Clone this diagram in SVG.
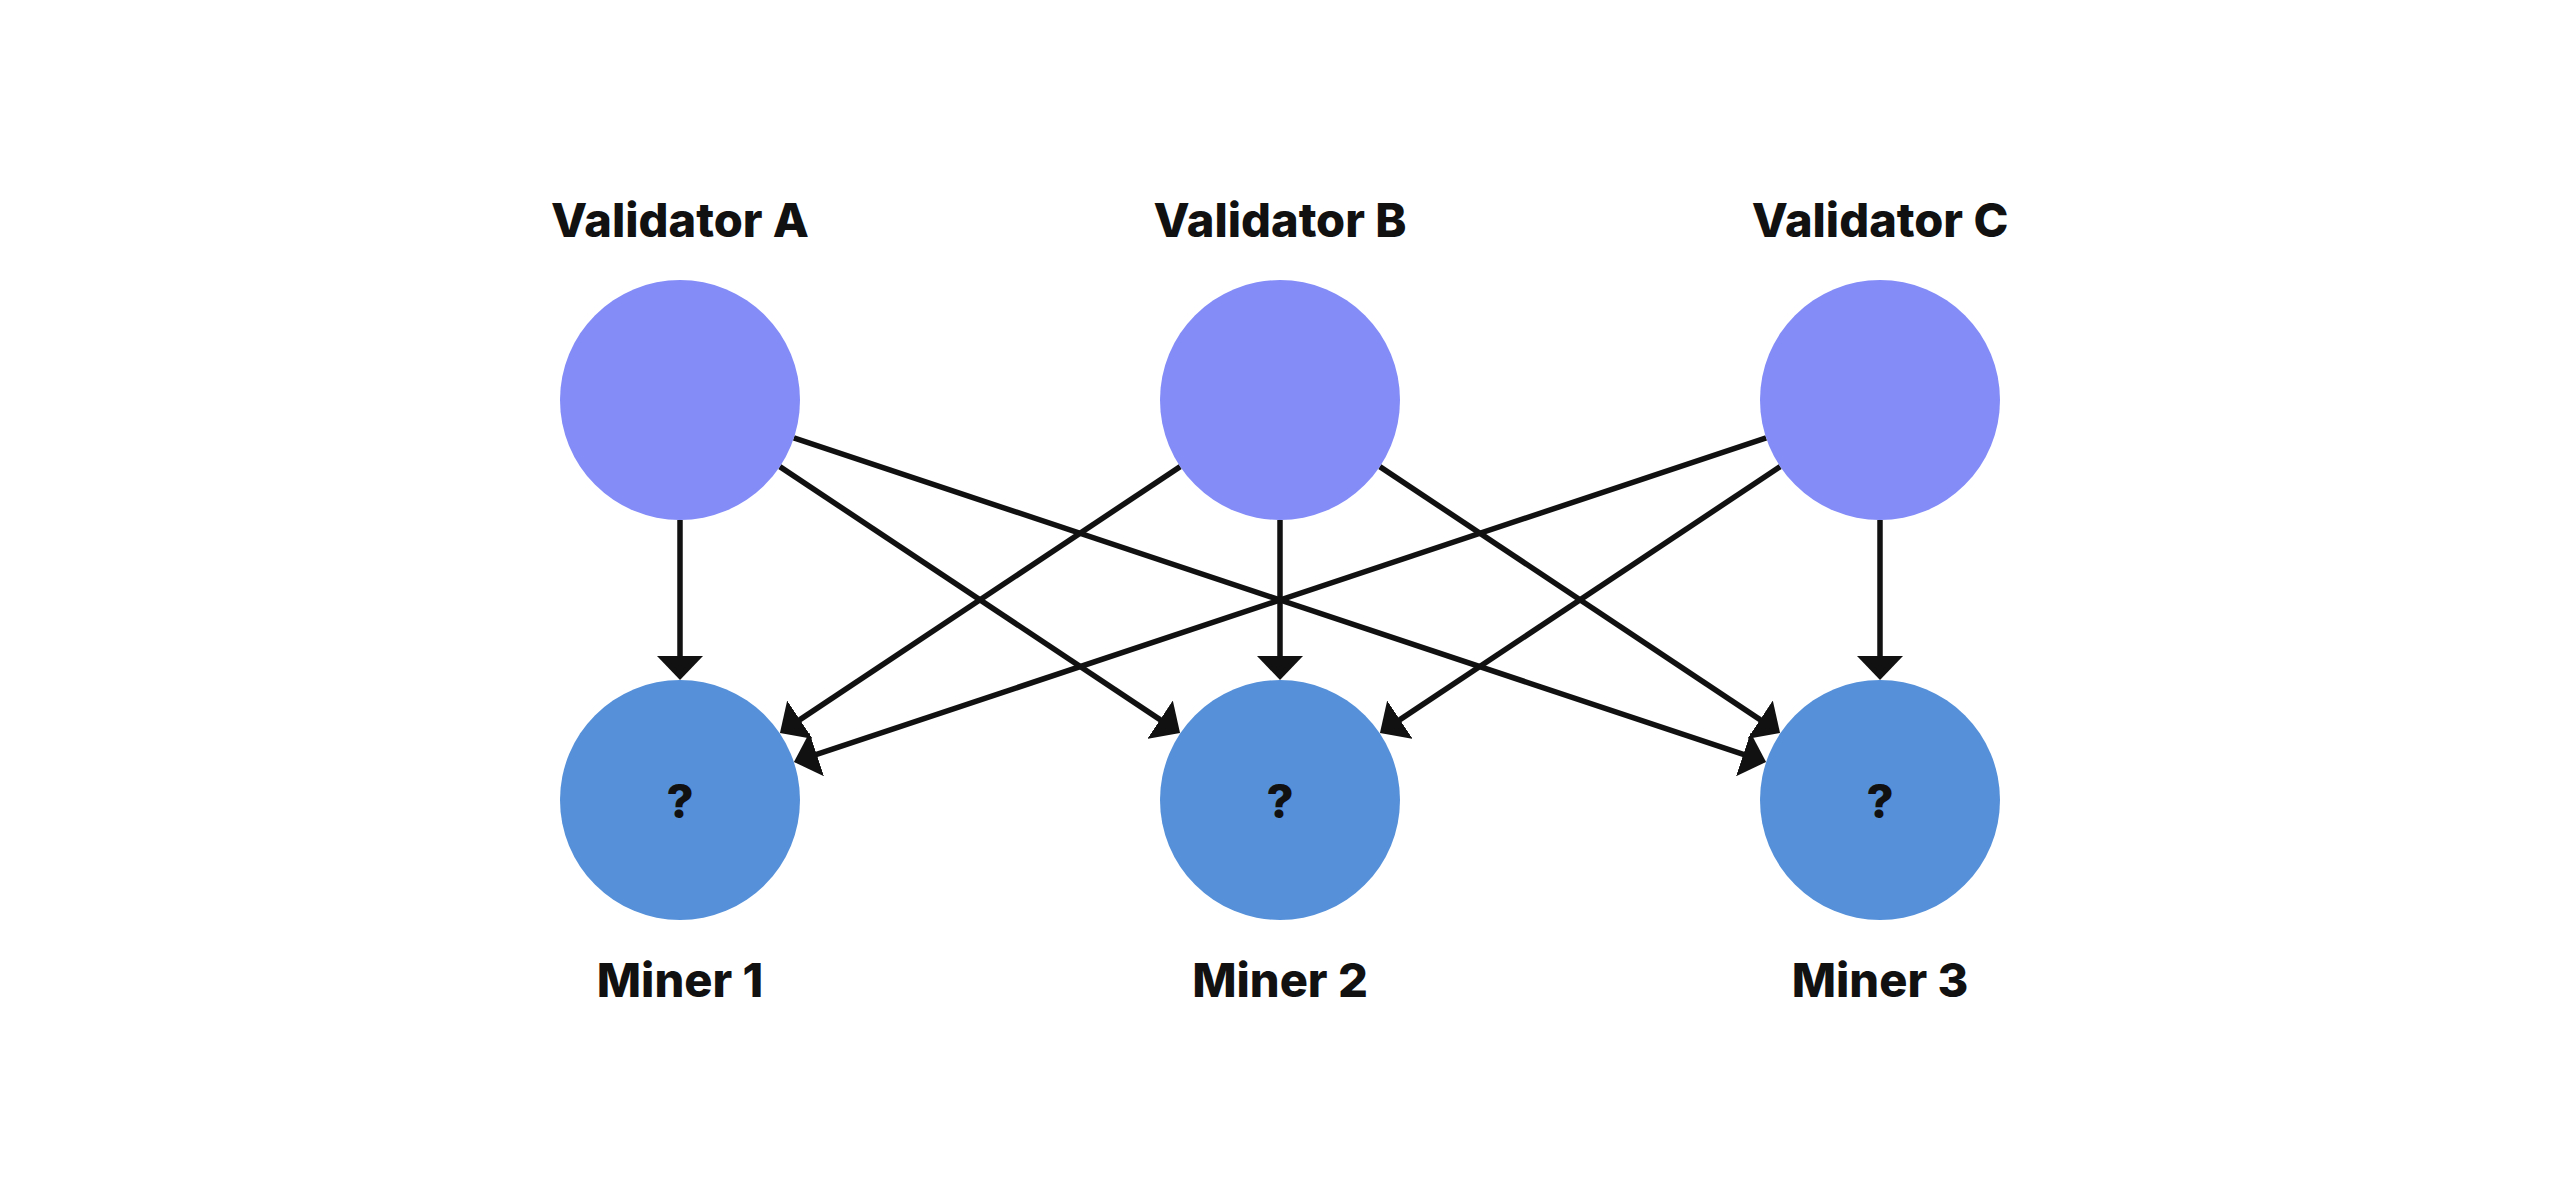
<svg xmlns="http://www.w3.org/2000/svg" width="2560" height="1200" viewBox="0 0 2560 1200">
  <style>
    .val { fill: #838CF7; }
    .min { fill: #5590D9; }
    .lbl { font-family: Inter, "Noto Sans", "Liberation Sans", sans-serif; font-weight: 800; font-size: 47px; fill: #111111; text-anchor: middle; }
    .edge { stroke: #111111; stroke-width: 5.5; fill: none; marker-end: url(#arrow); }
  </style>
  <defs>
    <marker id="arrow" markerUnits="userSpaceOnUse" markerWidth="24" markerHeight="46" viewBox="0 0 24 46" refX="4" refY="23" orient="auto">
      <path d="M0,0 L24,23 L0,46 z" fill="#111111"/>
    </marker>
  </defs>
  <rect width="2560" height="1200" fill="#ffffff"/>
  <g id="connectors">
    <line class="edge" x1="680" y1="520" x2="680" y2="660"/>
    <line class="edge" x1="1280" y1="520" x2="1280" y2="660"/>
    <line class="edge" x1="1880" y1="520" x2="1880" y2="660"/>
    <line class="edge" x1="779.8" y1="466.6" x2="1163.4" y2="721.9"/>
    <line class="edge" x1="793.8" y1="437.9" x2="1747.1" y2="755.7"/>
    <line class="edge" x1="1180.2" y1="466.6" x2="796.6" y2="721.9"/>
    <line class="edge" x1="1379.8" y1="466.6" x2="1763.4" y2="721.9"/>
    <line class="edge" x1="1766.2" y1="437.9" x2="812.9" y2="755.7"/>
    <line class="edge" x1="1780.2" y1="466.6" x2="1396.6" y2="721.9"/>
  </g>
  <g id="validator-a">
    <circle class="val" cx="680" cy="400" r="120"/>
    <text class="lbl" x="680" y="237">Validator A</text>
  </g>
  <g id="validator-b">
    <circle class="val" cx="1280" cy="400" r="120"/>
    <text class="lbl" x="1280" y="237">Validator B</text>
  </g>
  <g id="validator-c">
    <circle class="val" cx="1880" cy="400" r="120"/>
    <text class="lbl" x="1880" y="237">Validator C</text>
  </g>
  <g id="miner-1">
    <circle class="min" cx="680" cy="800" r="120"/>
    <text class="lbl" x="680" y="818">?</text>
    <text class="lbl" x="680" y="997">Miner 1</text>
  </g>
  <g id="miner-2">
    <circle class="min" cx="1280" cy="800" r="120"/>
    <text class="lbl" x="1280" y="818">?</text>
    <text class="lbl" x="1280" y="997">Miner 2</text>
  </g>
  <g id="miner-3">
    <circle class="min" cx="1880" cy="800" r="120"/>
    <text class="lbl" x="1880" y="818">?</text>
    <text class="lbl" x="1880" y="997">Miner 3</text>
  </g>
</svg>
